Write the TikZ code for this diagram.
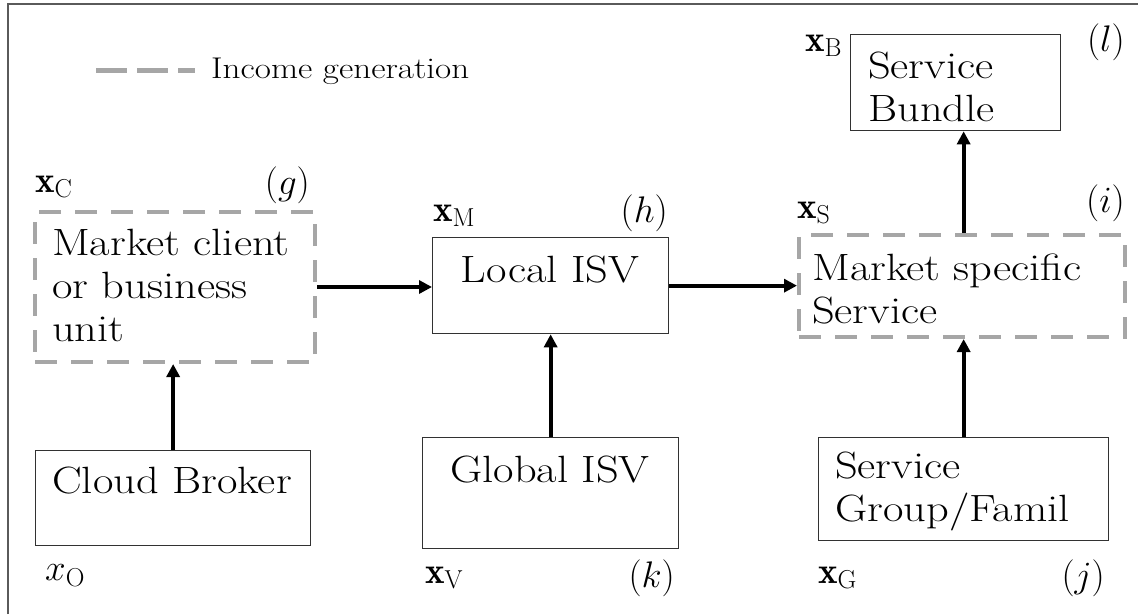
\RequirePackage{fix-cm}
\documentclass[tikz,border=0pt]{standalone}
\usepackage{fontspec}
\newfontfamily\widefont{lmroman17-regular}[Extension=.otf,FakeStretch=1.17]
\usetikzlibrary{arrows.meta}
\definecolor{dashgray}{RGB}{166,166,166}
\definecolor{framegray}{RGB}{90,90,90}
\definecolor{boxline}{RGB}{50,50,50}
\begin{document}
\begin{tikzpicture}[x=1pt,y=-1pt,
 box/.style={draw=boxline, line width=1.3pt, inner sep=0pt, anchor=north west},
 dbox/.style={draw=dashgray, line width=4pt, dash pattern=on 22pt off 14pt, inner sep=0pt, anchor=north west},
 txt/.style={inner sep=0pt, font=\widefont\fontsize{38}{43}\selectfont, align=left},
 lbl/.style={inner sep=0pt, font=\fontsize{37}{40}\selectfont},
 arr/.style={line width=4pt, -{Triangle[length=13pt,width=13pt]}},
]
\useasboundingbox (0,0) rectangle (1138,614);
% frame
\coordinate (fBL) at (8,614);
\coordinate (fTL) at (8,4);
\coordinate (fTR) at (1138,4);
\draw[framegray, line width=2pt] (fBL) -- (fTL) -- (fTR);

% legend
\coordinate (lgA) at (96,70);
\coordinate (lgB) at (195,70);
\draw[dashgray, line width=5pt, dash pattern=on 31pt off 10pt] (lgA) -- (lgB);
\node[inner sep=0pt, font=\widefont\fontsize{30}{34}\selectfont, anchor=base west] (lgt) at (211,78) {Income generation};

% boxes
\node[dbox, minimum width=280pt, minimum height=150pt] (mc) at (33,210) {};
\node[box, minimum width=236pt, minimum height=96pt] (li) at (432,237) {};
\node[dbox, minimum width=326pt, minimum height=102pt] (ms) at (797,233) {};
\node[box, minimum width=210pt, minimum height=96pt] (sb) at (850,34) {};
\node[box, minimum width=275pt, minimum height=95pt] (cb) at (35,450) {};
\node[box, minimum width=256pt, minimum height=111pt] (gi) at (422,437) {};
\node[box, minimum width=290pt, minimum height=103pt] (sg) at (818,437) {};

% texts
\node[txt, anchor=north west] (mct) at (52,228.5) {Market client\\or business\\unit};
\node[txt, anchor=base] (lit) at (550,282) {Local ISV};
\node[txt, anchor=north west] (mst) at (812,253.5) {Market specific\\Service};
\node[txt, anchor=north west] (sbt) at (868,51.5) {Service\\Bundle};
\node[txt, anchor=base west] (cbt) at (52,493) {Cloud Broker};
\node[txt, anchor=base] (git) at (550,482) {Global ISV};
\node[txt, anchor=north west] (sgt) at (835,451.5) {Service\\Group/Famil};

% labels
\node[lbl, anchor=west] (lxC) at (35,187) {$\mathbf{x}_{\mathrm{C}}$};
\node[lbl, anchor=east] (lg) at (310,185) {$(g)$};
\node[lbl, anchor=west] (lxM) at (433,216) {$\mathbf{x}_{\mathrm{M}}$};
\node[lbl, anchor=east] (lh) at (668,213) {$(h)$};
\node[lbl, anchor=west] (lxS) at (797,213) {$\mathbf{x}_{\mathrm{S}}$};
\node[lbl, anchor=east] (li2) at (1125,203) {$(i)$};
\node[lbl, anchor=west] (lxB) at (805,46) {$\mathbf{x}_{\mathrm{B}}$};
\node[lbl, anchor=east] (ll) at (1125,42) {$(l)$};
\node[lbl, anchor=west] (lxO) at (45,576) {$x_{\mathrm{O}}$};
\node[lbl, anchor=west] (lxV) at (425,578) {$\mathbf{x}_{\mathrm{V}}$};
\node[lbl, anchor=east] (lk) at (675,578) {$(k)$};
\node[lbl, anchor=west] (lxG) at (818,578) {$\mathbf{x}_{\mathrm{G}}$};
\node[lbl, anchor=east] (lj) at (1105,578) {$(j)$};

% arrows
\draw[arr] (cb.north) -- (cb.north |- mc.south);
\draw[arr] (mc.east) -- (mc.east -| li.west);
\draw[arr] (gi.north) -- (li.south);
\draw[arr] (li.east) -- (li.east -| ms.west);
\draw[arr] (sg.north) -- (sg.north |- ms.south);
\draw[arr] (ms.north -| sg.north) -- (sg.north |- sb.south);
\end{tikzpicture}
\end{document}
